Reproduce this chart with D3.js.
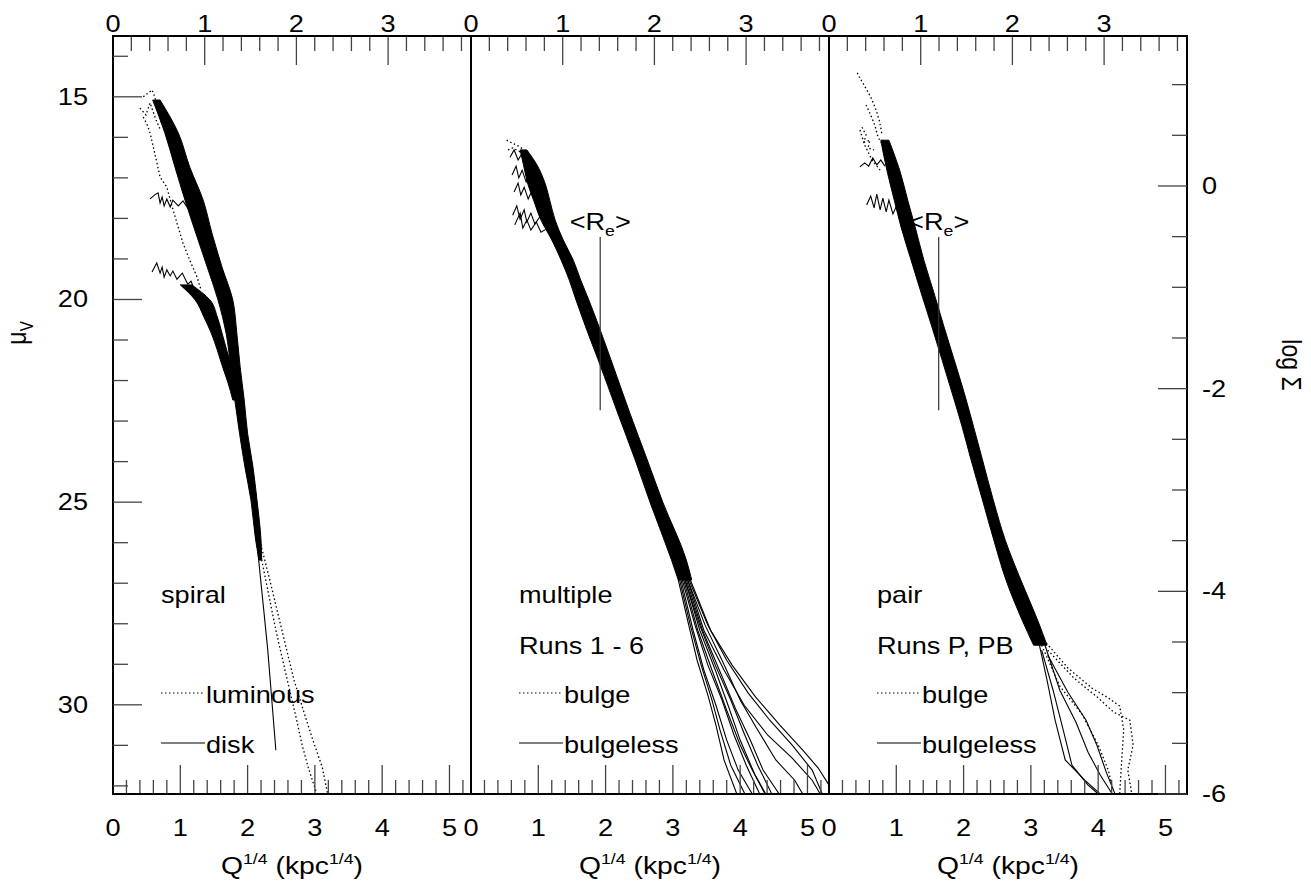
<!DOCTYPE html>
<html lang="en">
<head>
<meta charset="UTF-8">
<title>Surface brightness profiles</title>
<script src="https://d3js.org/d3.v7.min.js"></script>
<style>
html, body { margin: 0; background: #fff; }
svg text { font-family: 'Liberation Sans', Arial, sans-serif; fill: #000; }
</style>
</head>
<body>
<div id="chart"></div>
<script>

// --------------------------------------
// Data (x = Q^1/4 in kpc^1/4, mu = mu_V)
// --------------------------------------

const xTickLabels = [0, 1, 2, 3, 4, 5];
const topTickLabels = [0, 1, 2, 3];
const muTickLabels = [15, 20, 25, 30];
const sigmaTickLabels = [0, -2, -4, -6];

const panelNames = ["spiral", "multiple", "pair"];
const panelRuns = ["", "Runs 1 - 6", "Runs P, PB"];
const dottedNames = ["luminous", "bulge", "bulge"];
const solidNames = ["disk", "bulgeless", "bulgeless"];
const effRadius = [null, 1.92, 1.63];

// bands: [mu, xLeft, xRight]
const spiralBandA = [[15.08,0.59,0.70],[15.89,0.77,0.97],[16.73,0.92,1.14],[17.55,1.07,1.34],[18.36,1.23,1.47],
  [19.20,1.40,1.62],[20.01,1.56,1.78],[20.83,1.68,1.84],[21.67,1.75,1.89],[22.48,1.81,1.95],[23.30,1.88,2.00],
  [24.13,1.96,2.08],[24.95,2.05,2.14],[25.94,2.12,2.20],[26.43,2.17,2.21]];
const spiralBandB = [[19.64,1.00,1.17],[20.01,1.22,1.44],[20.43,1.35,1.55],[20.83,1.46,1.62],
  [21.25,1.55,1.69],[21.67,1.63,1.77],[22.06,1.71,1.84],[22.48,1.78,1.90]];
const multipleBand = [[16.31,0.73,0.83],[16.68,0.78,0.98],[17.18,0.85,1.11],[17.55,0.93,1.17],[18.04,1.04,1.25],
  [18.53,1.20,1.37],[19.03,1.34,1.52],[19.52,1.46,1.63],[20.01,1.56,1.75],[20.75,1.72,1.92],[21.49,1.89,2.08],
  [22.80,2.18,2.36],[23.96,2.44,2.62],[25.00,2.66,2.85],[26.43,2.98,3.20],[26.92,3.08,3.28]];
const pairBand = [[16.07,0.77,0.89],[16.81,0.86,1.05],[17.55,0.97,1.17],[18.21,1.07,1.28],
  [19.03,1.22,1.41],[19.84,1.37,1.56],[20.68,1.53,1.71],[21.49,1.68,1.86],[22.31,1.83,2.01],[23.15,1.98,2.15],
  [23.89,2.10,2.27],[25.00,2.29,2.45],[25.94,2.45,2.62],[26.92,2.63,2.85],[27.91,2.87,3.10],[28.53,3.04,3.24]];

// single profiles: [x, mu]
const spiralDiskA = [[0.55,17.52],[0.62,17.42],[0.67,17.37],[0.70,17.62],[0.73,17.47],[0.76,17.69],[0.80,17.52],
  [0.85,17.72],[0.89,17.55],[0.97,17.69],[1.04,17.57],[1.11,17.74],[1.19,17.65]];
const spiralDiskB = [[0.58,19.32],[0.65,19.10],[0.70,19.35],[0.73,19.20],[0.76,19.45],[0.80,19.27],[0.85,19.42],
  [0.89,19.30],[0.95,19.50],[1.03,19.35],[1.11,19.62],[1.16,19.55],[1.22,19.80]];
const spiralDiskTail = [[2.12,25.69],[2.18,26.68],[2.24,27.66],[2.30,28.65],[2.36,29.88],[2.42,31.12]];
const spiralLumA = [[0.45,15.00],[0.52,14.91],[0.58,14.83],[0.62,15.00],[0.67,15.33],[0.73,15.70]];
const spiralLumA2 = [[0.40,15.28],[0.49,15.45],[0.55,15.15],[0.64,15.57],[0.70,15.80]];
const spiralLumB = [[0.45,15.50],[0.51,15.70],[0.55,15.89],[0.62,16.39],[0.70,16.98],[0.80,17.23],[0.88,17.72],
  [0.95,18.11],[1.04,18.61],[1.14,19.03],[1.25,19.45],[1.31,19.77]];
const spiralLumTailA = [[2.15,25.94],[2.27,26.92],[2.42,28.16],[2.59,29.39],[2.73,30.38],[2.81,30.99],[2.90,31.54],[3.03,32.20]];
const spiralLumTailB = [[2.18,25.94],[2.33,26.92],[2.51,28.16],[2.69,29.39],[2.85,30.25],[2.97,30.87],[3.11,31.54],[3.19,32.20]];

const multipleStarts = [
  [[0.58,16.49],[0.64,16.31],[0.70,16.56],[0.76,16.39],[0.82,16.61],[0.88,16.46],[0.94,16.68]],
  [[0.61,16.93],[0.67,16.71],[0.71,17.00],[0.76,16.81],[0.82,17.10],[0.88,16.86],[0.94,17.18],[1.00,17.00],[1.05,17.25]],
  [[0.64,17.35],[0.70,17.13],[0.74,17.42],[0.79,17.23],[0.85,17.52],[0.91,17.30],[0.97,17.57],[1.03,17.42],[1.10,17.67]],
  [[0.62,17.92],[0.68,17.69],[0.73,18.02],[0.79,17.79],[0.83,18.09],[0.89,17.87],[0.95,18.14],[1.03,17.94],[1.11,18.19],[1.20,18.09]],
  [[0.65,18.16],[0.73,17.87],[0.77,18.24],[0.83,18.04],[0.89,18.29],[0.97,18.09],[1.04,18.34],[1.14,18.24],[1.25,18.43]]
];
const multipleBulgeStarts = [
  [[0.53,16.07],[0.61,16.14],[0.70,16.21],[0.79,16.31]],
  [[0.55,16.31],[0.62,16.26],[0.73,16.36],[0.80,16.45]]
];
const multipleTails = [
  [[3.08,26.92],[3.22,27.92],[3.36,28.90],[3.52,29.76],[3.64,30.50],[3.76,31.36],[3.95,32.20]],
  [[3.10,26.92],[3.26,28.04],[3.42,29.02],[3.58,29.88],[3.70,30.62],[3.86,31.49],[4.07,32.20]],
  [[3.12,26.92],[3.30,28.16],[3.46,29.14],[3.64,30.01],[3.80,30.87],[3.97,31.61],[4.18,32.20]],
  [[3.14,26.92],[3.33,28.04],[3.52,29.02],[3.73,29.88],[3.91,30.75],[4.09,31.49],[4.29,32.20]],
  [[3.16,26.92],[3.37,28.16],[3.58,29.14],[3.80,30.13],[4.00,30.99],[4.18,31.61],[4.38,32.20]],
  [[3.18,26.92],[3.40,28.04],[3.63,29.02],[3.86,29.88],[4.07,30.75],[4.26,31.49],[4.47,32.20]],
  [[3.20,26.92],[3.44,28.16],[3.69,29.14],[3.94,30.13],[4.15,30.87],[4.34,31.61],[4.58,32.20]],
  [[3.22,26.92],[3.48,28.04],[3.73,28.90],[4.00,29.88],[4.26,30.62],[4.53,31.36],[4.81,31.86],[4.93,32.20]],
  [[3.24,26.92],[3.52,28.04],[3.80,28.90],[4.12,29.71],[4.44,30.38],[4.77,30.99],[5.07,31.61],[5.22,32.20]],
  [[3.26,26.92],[3.56,28.16],[3.88,29.02],[4.23,29.81],[4.59,30.50],[4.93,31.12],[5.16,31.56],[5.32,31.98]],
  [[3.22,26.92],[3.46,28.16],[3.76,29.14],[4.06,30.01],[4.41,30.75],[4.77,31.31],[5.07,31.86],[5.19,32.20]],
  [[3.18,26.92],[3.40,28.16],[3.63,29.14],[3.82,30.01],[4.00,30.87],[4.22,31.73],[4.37,32.20]]
];

const pairStarts = [
  [[0.46,16.73],[0.53,16.63],[0.59,16.71],[0.65,16.51],[0.71,16.68],[0.77,16.56],[0.83,16.71]],
  [[0.56,17.67],[0.62,17.45],[0.67,17.74],[0.71,17.40],[0.76,17.79],[0.80,17.50],[0.85,17.84],[0.89,17.55],[0.95,17.89],[1.01,17.67]]
];
const pairBulgeStarts = [
  [[0.42,14.41],[0.46,14.54],[0.52,14.71],[0.58,14.88],[0.64,15.08],[0.70,15.33],[0.75,15.60],[0.79,15.95]],
  [[0.49,15.75],[0.55,15.94],[0.52,16.12],[0.61,16.07],[0.58,16.26],[0.67,16.31]],
  [[0.46,15.82],[0.53,16.19],[0.64,16.56],[0.76,16.81]],
  [[0.55,15.20],[0.62,15.45],[0.68,15.70],[0.73,16.00],[0.80,16.20]]
];
const pairTails = [
  [[3.11,28.40],[3.24,29.39],[3.36,30.38],[3.51,31.36],[3.80,31.86],[4.03,32.20]],
  [[3.16,28.65],[3.33,29.64],[3.48,30.62],[3.61,31.49],[3.85,31.98],[4.00,32.20]],
  [[3.21,28.53],[3.43,29.64],[3.67,30.43],[3.85,31.17],[4.03,31.73],[4.21,32.20]],
  [[3.25,28.77],[3.55,29.69],[3.82,30.38],[3.98,30.99],[4.12,31.66],[4.25,32.20]]
];
const pairBulgeTails = [
  [[3.19,28.40],[3.55,29.09],[3.91,29.59],[4.15,29.83],[4.32,30.03],[4.38,30.62],[4.35,31.36],[4.32,32.20]],
  [[3.25,28.65],[3.64,29.34],[4.00,29.83],[4.23,30.18],[4.47,30.38],[4.52,30.99],[4.44,31.61],[4.50,32.20]],
  [[3.16,28.53],[3.43,29.54],[3.76,30.23],[4.00,30.99],[4.15,31.61],[4.22,32.10]]
];

// --------------------------------------
// Size and layout
// --------------------------------------

const width = 1311, height = 888;
const plotLeft = 113, plotTop = 36, plotBottom = 794, panelW = 358;
const SX = 1.18;  // the source figure is stretched sideways

const svg = d3.select("#chart").append("svg")
  .attr("width", width).attr("height", height);

const y = d3.scaleLinear().domain([13.5, 32.2]).range([plotTop, plotBottom]);
const ySigma = d3.scaleLinear().domain([1.48, -6]).range([plotTop, plotBottom]);

function label(g, x, yy, s, anchor, size) {
  return g.append("text")
    .attr("transform", `translate(${x},${yy}) scale(${SX},1)`)
    .attr("text-anchor", anchor || "start")
    .attr("font-size", size || 23)
    .text(s);
}

const panels = [
  {bands: [spiralBandA, spiralBandB], solid: [spiralDiskA, spiralDiskB, spiralDiskTail],
   dotted: [spiralLumA, spiralLumA2, spiralLumB, spiralLumTailA, spiralLumTailB]},
  {bands: [multipleBand], solid: multipleStarts.concat(multipleTails), dotted: multipleBulgeStarts},
  {bands: [pairBand], solid: pairStarts.concat(pairTails), dotted: pairBulgeStarts.concat(pairBulgeTails)}
];

const tickColor = "#444";

panels.forEach((p, i) => {
  const x0 = plotLeft + i * panelW;
  const x = d3.scaleLinear().domain([0, 5.32]).range([x0, x0 + panelW]);
  const xTop = d3.scaleLinear().domain([0, 3.904]).range([x0, x0 + panelW]);
  const g = svg.append("g");

  g.append("clipPath").attr("id", "clip" + i)
    .append("rect").attr("x", x0).attr("y", plotTop).attr("width", panelW).attr("height", plotBottom - plotTop);

  const plot = g.append("g").attr("clip-path", `url(#clip${i})`);

  const area = d3.area().y(d => y(d[0])).x0(d => x(d[1])).x1(d => x(d[2])).curve(d3.curveMonotoneY);
  const line = d3.line().x(d => x(d[0])).y(d => y(d[1]));

  plot.selectAll(".band").data(p.bands).join("path")
    .attr("class", "band").attr("d", area)
    .attr("fill", "#000").attr("stroke", "#000").attr("stroke-width", 1).attr("stroke-linejoin", "round");

  plot.selectAll(".solid").data(p.solid).join("path")
    .attr("class", "solid").attr("d", line)
    .attr("fill", "none").attr("stroke", "#000").attr("stroke-width", 1.1);

  plot.selectAll(".dotted").data(p.dotted).join("path")
    .attr("class", "dotted").attr("d", line)
    .attr("fill", "none").attr("stroke", "#000").attr("stroke-width", 1.3)
    .attr("stroke-dasharray", "1.5,2.5");

  // bottom ticks
  const bt = d3.range(0, 5.3, 0.2);
  g.selectAll(".bt").data(bt).join("line")
    .attr("x1", d => x(d)).attr("x2", d => x(d))
    .attr("y1", plotBottom)
    .attr("y2", d => plotBottom - (Math.abs(d - Math.round(d)) < 1e-6 ? 29 : 14))
    .attr("stroke", tickColor).attr("stroke-width", 1.3);
  xTickLabels.forEach(v => label(g, x(v), 836, v, "middle", 23));

  // top ticks
  const tt = d3.range(0, 3.9, 0.2);
  g.selectAll(".tt").data(tt).join("line")
    .attr("x1", d => xTop(d)).attr("x2", d => xTop(d))
    .attr("y1", plotTop)
    .attr("y2", d => plotTop + (Math.abs(d - Math.round(d)) < 1e-6 ? 29 : 15))
    .attr("stroke", tickColor).attr("stroke-width", 1.3);
  topTickLabels.forEach(v => label(g, xTop(v), 32, v, "middle", 23));

  // axis title
  const t = g.append("text")
    .attr("transform", `translate(${x0 + panelW / 2},874) scale(${SX},1)`)
    .attr("text-anchor", "middle").attr("font-size", 24);
  t.append("tspan").text("Q");
  t.append("tspan").attr("font-size", 15).attr("dy", -10).text("1/4");
  t.append("tspan").attr("dy", 10).text(" (kpc");
  t.append("tspan").attr("font-size", 15).attr("dy", -10).text("1/4");
  t.append("tspan").attr("dy", 10).text(")");

  // legend
  const lx = x0 + 48;
  label(g, lx, 603, panelNames[i]);
  if (panelRuns[i]) label(g, lx, 654, panelRuns[i]);
  g.append("line").attr("x1", lx).attr("x2", lx + 44).attr("y1", 693).attr("y2", 693)
    .attr("stroke", "#000").attr("stroke-width", 1.2).attr("stroke-dasharray", "1.5,2.5");
  label(g, lx + 45, 703, dottedNames[i]);
  g.append("line").attr("x1", lx).attr("x2", lx + 44).attr("y1", 743).attr("y2", 743)
    .attr("stroke", "#000").attr("stroke-width", 1.1);
  label(g, lx + 45, 753, solidNames[i]);

  // effective radius marker
  if (effRadius[i] !== null) {
    g.append("line").attr("x1", x(effRadius[i])).attr("x2", x(effRadius[i]))
      .attr("y1", y(18.46)).attr("y2", y(22.73))
      .attr("stroke", "#333").attr("stroke-width", 1.2);
    const r = g.append("text")
      .attr("transform", `translate(${x(effRadius[i])},${y(18.46) - 7}) scale(${SX},1)`)
      .attr("text-anchor", "middle").attr("font-size", 23);
    r.append("tspan").text("<R");
    r.append("tspan").attr("font-size", 15).attr("dy", 6).text("e");
    r.append("tspan").attr("dy", -6).text(">");
  }
});

// --------------------------------------
// Frame and y axes
// --------------------------------------

const plotRight = plotLeft + 3 * panelW;

svg.append("rect")
  .attr("x", plotLeft).attr("y", plotTop)
  .attr("width", plotRight - plotLeft).attr("height", plotBottom - plotTop)
  .attr("fill", "none").attr("stroke", "#000").attr("stroke-width", 2);

[1, 2].forEach(k => svg.append("line")
  .attr("x1", plotLeft + k * panelW).attr("x2", plotLeft + k * panelW)
  .attr("y1", plotTop).attr("y2", plotBottom)
  .attr("stroke", "#000").attr("stroke-width", 2));

const muMinor = d3.range(14, 32.5, 1);
svg.selectAll(".ly").data(muMinor).join("line")
  .attr("x1", plotLeft).attr("x2", d => plotLeft + (d % 5 === 0 ? 29 : 15))
  .attr("y1", d => y(d)).attr("y2", d => y(d))
  .attr("stroke", tickColor).attr("stroke-width", 1.3);
muTickLabels.forEach(v => label(svg, 88, y(v) + 8, v, "end", 23));

const sigMinor = d3.range(1, -6.25, -0.5);
svg.selectAll(".ry").data(sigMinor).join("line")
  .attr("x1", plotRight).attr("x2", d => plotRight - (d % 2 === 0 ? 29 : 15))
  .attr("y1", d => ySigma(d)).attr("y2", d => ySigma(d))
  .attr("stroke", tickColor).attr("stroke-width", 1.3);
sigmaTickLabels.forEach(v => label(svg, 1202, ySigma(v) + 8, v, "start", 23));

const mu = svg.append("text")
  .attr("transform", `translate(26,333) rotate(-90) scale(1,${SX})`)
  .attr("text-anchor", "middle").attr("font-size", 23);
mu.append("tspan").text("\u03bc");
mu.append("tspan").attr("font-size", 15).attr("dy", 6).text("V");

svg.append("text")
  .attr("transform", `translate(1282,365) rotate(90) scale(1,${SX})`)
  .attr("text-anchor", "middle").attr("font-size", 23)
  .text("log \u03a3");

</script>
</body>
</html>
